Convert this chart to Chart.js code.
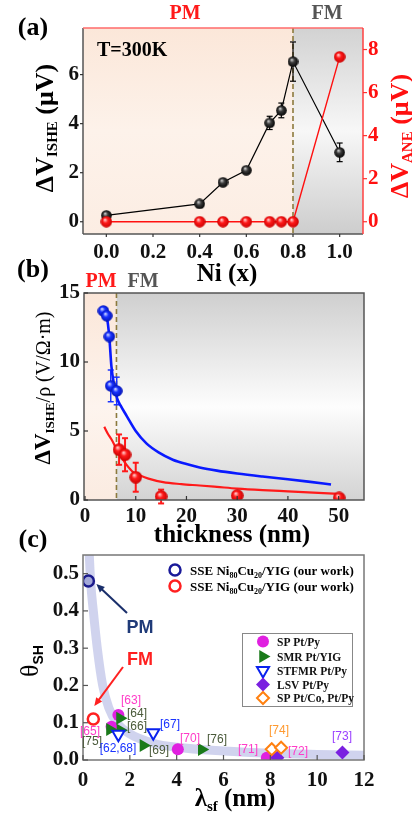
<!DOCTYPE html>
<html><head><meta charset="utf-8">
<script src="https://cdn.jsdelivr.net/npm/chart.js@4.4.1/dist/chart.umd.min.js"></script>
<style>
html,body{margin:0;padding:0;background:#fff;}
body{width:412px;height:817px;position:relative;overflow:hidden;}
canvas{position:absolute;left:0;}
</style></head><body>
<canvas id="chartA" width="412" height="290" style="top:0px"></canvas>
<canvas id="chartB" width="412" height="302" style="top:250px"></canvas>
<canvas id="chartC" width="412" height="302" style="top:515px"></canvas>
<script>
// ================= DATA =================
// Panel (a): Ni fraction x
const niFraction = [0, 0.4, 0.5, 0.6, 0.7, 0.75, 0.8, 1.0];
const dVishe     = [0.26, 0.73, 1.61, 2.10, 4.03, 4.54, 6.53, 2.83];
const dVisheErr  = [0.05, 0.05, 0.06, 0.08, 0.27, 0.30, 0.80, 0.38];
const dVane      = [0, 0, 0, 0, 0, 0, 0, 7.66];
const aXTicks  = [0, 0.2, 0.4, 0.6, 0.8, 1.0];
const aYTicks  = [0, 2, 4, 6];
const aY2Ticks = [0, 2, 4, 6, 8];
const aBoundary = 0.8;

// Panel (b): thickness dependence
const blueThick = [3.61, 4.28, 4.79, 5.07, 6.25];
const blueVal   = [13.7, 13.35, 11.84, 8.27, 7.9];
const blueErr   = [0.15, 0.15, 0.15, 1.15, 1.0];
const redThick  = [6.71, 7.89, 10.0, 15.0, 30.0, 50.1];
const redVal    = [3.65, 3.28, 1.65, 0.25, 0.32, 0.15];
const redErr    = [1.1, 1.2, 1.05, 0.5, 0, 0];
const fitBlueThick = [3.61, 4.28, 4.79, 5.2, 5.7, 6.3, 7.0, 8.2, 10, 12.1, 14.5, 17.3, 20, 22.6, 26, 30, 35, 40, 44, 48.5];
const fitBlueVal   = [13.7, 13.3, 11.8, 9.7, 8.4, 7.4, 6.85, 6.1, 5.0, 4.1, 3.45, 2.92, 2.6, 2.36, 2.13, 1.92, 1.7, 1.5, 1.33, 1.12];
const fitRedThick  = [3.8, 4.5, 5.2, 6.2, 7.2, 8.2, 9.5, 11, 12.5, 15.4, 19, 22.6, 26, 30, 35, 40, 45, 50];
const fitRedVal    = [5.3, 4.8, 4.4, 3.72, 3.1, 2.55, 2.02, 1.75, 1.55, 1.29, 1.15, 1.05, 0.95, 0.83, 0.72, 0.63, 0.54, 0.45];
const bXTicks = [0, 10, 20, 30, 40, 50];
const bYTicks = [0, 5, 10, 15];
const bBoundary = 6.2;

// Panel (c): spin Hall angle vs spin diffusion length
const pmLambda = [0.23], pmTheta = [0.48];
const fmLambda = [0.44], fmTheta = [0.11];
const spPtPyLambda = [1.51, 1.22, 4.05, 7.85, 8.16];
const spPtPyTheta  = [0.121, 0.089, 0.029, 0.006, 0.006];
const smrLambda = [1.58, 1.15, 1.6, 2.58, 5.07];
const smrTheta  = [0.112, 0.082, 0.08, 0.039, 0.028];
const stfmrLambda = [1.51, 3.0];
const stfmrTheta  = [0.069, 0.073];
const lsvLambda = [8.3, 11.08];
const lsvTheta  = [0.006, 0.02];
const spCoLambda = [8.06, 8.46];
const spCoTheta  = [0.029, 0.033];
const guideLambda = [0.26, 0.33, 0.44, 0.61, 0.84, 1.1, 1.44, 2.0, 3.0, 4.0, 6.0, 8.0, 10.0, 12.0];
const guideTheta  = [0.56, 0.475, 0.40, 0.30, 0.20, 0.14, 0.10, 0.07, 0.045, 0.034, 0.024, 0.018, 0.015, 0.013];
const cXTicks = [0, 2, 4, 6, 8, 10, 12];
const cYTicks = [0, 0.1, 0.2, 0.3, 0.4, 0.5];

// ================= HELPERS =================
const SERIF = '"Liberation Serif", "Times New Roman", serif';
const SANS = '"Liberation Sans", Arial, sans-serif';
const tickFont = {family: SERIF, size: 21, weight: 'bold'};
const pts = (xs, ys) => xs.map((x, i) => ({x, y: ys[i]}));

function sphere(d, light, base, dark) {
  const c = document.createElement('canvas'); c.width = c.height = d;
  const g = c.getContext('2d'); const r = d / 2;
  const gr = g.createRadialGradient(r * 0.75, r * 0.65, r * 0.05, r, r, r);
  gr.addColorStop(0, light); gr.addColorStop(0.4, base); gr.addColorStop(1, dark);
  g.fillStyle = gr; g.beginPath(); g.arc(r, r, r - 0.2, 0, Math.PI * 2); g.fill();
  return c;
}
function rich(ctx, parts, x, y, rot, align) {
  ctx.save(); ctx.translate(x, y); if (rot) ctx.rotate(rot);
  let w = 0; for (const p of parts) { ctx.font = p.f; w += ctx.measureText(p.t).width; }
  let cx = align === 'left' ? 0 : -w / 2;
  ctx.textAlign = 'left'; ctx.textBaseline = 'alphabetic';
  for (const p of parts) { ctx.font = p.f; ctx.fillStyle = p.c || '#000'; ctx.fillText(p.t, cx, p.dy || 0); cx += ctx.measureText(p.t).width; }
  ctx.restore();
}
function text(ctx, t, x, y, font, color, align, base) {
  ctx.save(); ctx.font = font; ctx.fillStyle = color; ctx.textAlign = align || 'center'; ctx.textBaseline = base || 'alphabetic';
  ctx.fillText(t, x, y); ctx.restore();
}
function line(ctx, x1, y1, x2, y2, color, w, dash) {
  ctx.save(); ctx.strokeStyle = color; ctx.lineWidth = w; if (dash) ctx.setLineDash(dash);
  ctx.beginPath(); ctx.moveTo(x1, y1); ctx.lineTo(x2, y2); ctx.stroke(); ctx.restore();
}
function ticksMarks(chart, specs) {
  const a = chart.chartArea;
  for (const s of specs) {
    const sc = chart.scales[s.id];
    for (const v of s.values) {
      const p = sc.getPixelForValue(v);
      if (s.side === 'left') line(chart.ctx, a.left, p, a.left + s.len, p, s.color, 1.2);
      if (s.side === 'right') line(chart.ctx, a.right, p, a.right - s.len, p, s.color, 1.2);
      if (s.side === 'bottom') line(chart.ctx, p, a.bottom, p, a.bottom - s.len, s.color, 1.2);
    }
  }
}
function errBars(chart, idx, errs, color, w, cap) {
  const meta = chart.getDatasetMeta(idx); const ys = chart.scales[meta.yAxisID];
  const ds = chart.data.datasets[idx].data;
  meta.data.forEach((el, i) => {
    const e = errs[i]; if (!e) return;
    const t = ys.getPixelForValue(ds[i].y + e), b = ys.getPixelForValue(ds[i].y - e);
    line(chart.ctx, el.x, t, el.x, b, color, w);
    line(chart.ctx, el.x - cap, t, el.x + cap, t, color, w);
    line(chart.ctx, el.x - cap, b, el.x + cap, b, color, w);
  });
}
function vgrad(ctx, top, bottom, stops) {
  const g = ctx.createLinearGradient(0, top, 0, bottom);
  stops.forEach(s => g.addColorStop(s[0], s[1])); return g;
}
function marker(ctx, type, x, y, r, fill, stroke, lw) {
  ctx.save(); ctx.beginPath();
  if (type === 'circle') ctx.arc(x, y, r, 0, 2 * Math.PI);
  else if (type === 'triR') { ctx.moveTo(x + r, y); ctx.lineTo(x - r * 0.5, y - r * 0.866); ctx.lineTo(x - r * 0.5, y + r * 0.866); ctx.closePath(); }
  else if (type === 'triD') { ctx.moveTo(x, y + r); ctx.lineTo(x - r * 0.866, y - r * 0.5); ctx.lineTo(x + r * 0.866, y - r * 0.5); ctx.closePath(); }
  else if (type === 'diamond') { ctx.moveTo(x, y - r); ctx.lineTo(x + r, y); ctx.lineTo(x, y + r); ctx.lineTo(x - r, y); ctx.closePath(); }
  if (fill) { ctx.fillStyle = fill; ctx.fill(); }
  if (stroke) { ctx.strokeStyle = stroke; ctx.lineWidth = lw; ctx.stroke(); }
  ctx.restore();
}
function arrow(ctx, x1, y1, x2, y2, color, w, head) {
  const ang = Math.atan2(y2 - y1, x2 - x1);
  line(ctx, x1, y1, x2 - Math.cos(ang) * head * 0.7, y2 - Math.sin(ang) * head * 0.7, color, w);
  ctx.save(); ctx.fillStyle = color; ctx.beginPath(); ctx.moveTo(x2, y2);
  ctx.lineTo(x2 - head * Math.cos(ang - 0.42), y2 - head * Math.sin(ang - 0.42));
  ctx.lineTo(x2 - head * Math.cos(ang + 0.42), y2 - head * Math.sin(ang + 0.42));
  ctx.closePath(); ctx.fill(); ctx.restore();
}
function linAxis(min, max, tickArr, extra) {
  return Object.assign({
    type: 'linear', min, max,
    afterBuildTicks: s => { s.ticks = tickArr.map(v => ({value: v})); },
    grid: {display: false, drawTicks: false}, border: {display: false},
    ticks: {font: tickFont, color: '#111', autoSkip: false, maxRotation: 0, padding: 4}
  }, extra);
}
const common = {responsive: false, animation: false, events: [],
  plugins: {legend: {display: false}, tooltip: {enabled: false}}};

// ================= CHART (a) =================
const blackA = sphere(11, '#d0d0d0', '#3a3a3a', '#000');
const redA = sphere(12, '#ffd0d0', '#ff1a1a', '#c80000');
const redB = sphere(13, '#ffd0d0', '#ff1a1a', '#c80000');
const blueB = sphere(12, '#d0d8ff', '#1a33ff', '#0010b0');

new Chart(document.getElementById('chartA'), {
  type: 'scatter',
  data: {datasets: [
    {data: pts(niFraction, dVane), yAxisID: 'y2', showLine: true, borderColor: '#ff1010', borderWidth: 1.4,
     pointStyle: redA, pointRadius: 6, order: 0},
    {data: pts(niFraction, dVishe), yAxisID: 'y', showLine: true, borderColor: '#000', borderWidth: 1.2,
     pointStyle: blackA, pointRadius: 6, order: 1}
  ]},
  options: Object.assign({}, common, {
    layout: {padding: {top: 28, left: 0, right: 0, bottom: 0}},
    scales: {
      x: linAxis(-0.1, 1.1, aXTicks, {afterFit: s => { s.height = 56; },
        ticks: {font: tickFont, color: '#111', autoSkip: false, maxRotation: 0, padding: 6, callback: v => v.toFixed(1)}}),
      y: linAxis(-0.5, 7.9, aYTicks, {position: 'left', afterFit: s => { s.width = 83; }}),
      y2: linAxis(-0.57, 9.0, aY2Ticks, {position: 'right', afterFit: s => { s.width = 49; },
        ticks: {font: tickFont, color: '#ff1010', autoSkip: false, padding: 5}})
    }
  }),
  plugins: [{
    id: 'decoA',
    beforeDraw(chart) {
      const ctx = chart.ctx, a = chart.chartArea, bx = chart.scales.x.getPixelForValue(aBoundary);
      ctx.save();
      ctx.fillStyle = vgrad(ctx, a.top, a.bottom, [[0, '#fbe7d9'], [0.5, '#fdf2ea'], [1, '#fcede3']]);
      ctx.fillRect(a.left, a.top, bx - a.left, a.bottom - a.top);
      ctx.fillStyle = vgrad(ctx, a.top, a.bottom, [[0, '#d2d2d2'], [0.5, '#f7f7f7'], [1, '#cdcdcd']]);
      ctx.fillRect(bx, a.top, a.right - bx, a.bottom - a.top);
      ctx.restore();
    },
    beforeDatasetsDraw(chart) {
      const a = chart.chartArea, bx = chart.scales.x.getPixelForValue(aBoundary);
      line(chart.ctx, bx, a.top, bx, a.bottom, '#8c7a3e', 1.6, [5, 3]);
      errBars(chart, 1, dVisheErr, '#000', 1.2, 3);
    },
    afterDraw(chart) {
      const ctx = chart.ctx, a = chart.chartArea;
      line(ctx, a.left, a.bottom, a.right, a.bottom, '#555', 1.5);
      line(ctx, a.left, a.top, a.left, a.bottom, '#555', 1.5);
      line(ctx, a.left, a.top, a.right, a.top, '#ff6a6a', 1.5);
      line(ctx, a.right, a.top, a.right, a.bottom, '#ff4040', 1.5);
      ticksMarks(chart, [
        {id: 'y', side: 'left', len: -3, values: aYTicks, color: '#333'},
        {id: 'y2', side: 'right', len: -4, values: aY2Ticks, color: '#ff3030'},
        {id: 'x', side: 'bottom', len: -3, values: aXTicks, color: '#333'}]);
      text(ctx, '(a)', 33, 35, 'bold 26px ' + SERIF, '#000');
      text(ctx, 'PM', 185, 19, 'bold 20px ' + SERIF, '#ff1a1a');
      text(ctx, 'FM', 327, 19, 'bold 20px ' + SERIF, '#555');
      text(ctx, 'T=300K', 97, 56, 'bold 20px ' + SERIF, '#000', 'left');
      const B = 'bold 26px ' + SERIF, S = 'bold 15px ' + SERIF;
      rich(ctx, [{t: 'ΔV', f: B}, {t: 'ISHE', f: S, dy: 4}, {t: ' (μV)', f: B}], 53, 128, -Math.PI / 2);
      rich(ctx, [{t: 'ΔV', f: B, c: '#ff1010'}, {t: 'ANE', f: S, dy: 4, c: '#ff1010'}, {t: ' (μV)', f: B, c: '#ff1010'}], 408, 136, -Math.PI / 2);
      text(ctx, 'Ni (x)', 227, 281, 'bold 25px ' + SERIF, '#000');
    }
  }]
});

// ================= CHART (b) =================
const TB = 250;
new Chart(document.getElementById('chartB'), {
  type: 'scatter',
  data: {datasets: [
    {data: pts(blueThick, blueVal), pointStyle: blueB, pointRadius: 6, order: 1, clip: 0},
    {data: pts(redThick, redVal), pointStyle: redB, pointRadius: 6, order: 0, clip: 0},
    {data: pts(fitBlueThick, fitBlueVal), showLine: true, pointRadius: 0, borderColor: '#0a1aff', borderWidth: 2.6,
     cubicInterpolationMode: 'monotone', order: 3},
    {data: pts(fitRedThick, fitRedVal), showLine: true, pointRadius: 0, borderColor: '#ff1a1a', borderWidth: 2.2,
     cubicInterpolationMode: 'monotone', order: 2}
  ]},
  options: Object.assign({}, common, {
    layout: {padding: {top: 43, left: 0, right: 48, bottom: 0}},
    scales: {
      x: linAxis(-0.2, 55, bXTicks, {afterFit: s => { s.height = 52; },
        ticks: {font: tickFont, color: '#111', autoSkip: false, maxRotation: 0, padding: 4}}),
      y: linAxis(0, 15, bYTicks, {position: 'left', afterFit: s => { s.width = 84; }})
    }
  }),
  plugins: [{
    id: 'decoB',
    beforeDraw(chart) {
      const ctx = chart.ctx, a = chart.chartArea, bx = chart.scales.x.getPixelForValue(bBoundary);
      ctx.save();
      ctx.fillStyle = vgrad(ctx, a.top, a.bottom, [[0, '#fbe6d8'], [0.55, '#fdf4ee'], [1, '#fbebe1']]);
      ctx.fillRect(a.left, a.top, bx - a.left, a.bottom - a.top);
      ctx.fillStyle = vgrad(ctx, a.top, a.bottom, [[0, '#cfcfcf'], [0.55, '#fdfdfd'], [1, '#d3d3d3']]);
      ctx.fillRect(bx, a.top, a.right - bx, a.bottom - a.top);
      ctx.restore();
    },
    beforeDatasetsDraw(chart) {
      const a = chart.chartArea, bx = chart.scales.x.getPixelForValue(bBoundary);
      line(chart.ctx, bx, a.top, bx, a.bottom, '#8c7a3e', 1.6, [5, 3]);
      errBars(chart, 0, blueErr, '#1a33ff', 1.5, 3);
      errBars(chart, 1, redErr, '#ff1a1a', 2, 3);
    },
    afterDraw(chart) {
      const ctx = chart.ctx, a = chart.chartArea;
      ctx.save(); ctx.strokeStyle = '#555'; ctx.lineWidth = 1.5; ctx.strokeRect(a.left, a.top, a.right - a.left, a.bottom - a.top); ctx.restore();
      ticksMarks(chart, [
        {id: 'y', side: 'left', len: 4, values: bYTicks, color: '#333'},
        {id: 'x', side: 'bottom', len: 4, values: bXTicks, color: '#333'}]);
      text(ctx, '(b)', 33, 277 - TB, 'bold 26px ' + SERIF, '#000');
      text(ctx, 'PM', 101, 287 - TB, 'bold 20px ' + SERIF, '#ff1a1a');
      text(ctx, 'FM', 143, 287 - TB, 'bold 20px ' + SERIF, '#555');
      const B = 'bold 23px ' + SERIF, S = 'bold 13px ' + SERIF, N = '20px ' + SERIF;
      rich(ctx, [{t: 'ΔV', f: B}, {t: 'ISHE', f: S, dy: 4}, {t: '/ρ (V/Ω·m)', f: N}], 50, 388 - TB, -Math.PI / 2);
      text(ctx, 'thickness (nm)', 232, 542 - TB, 'bold 25px ' + SERIF, '#000');
    }
  }]
});

// ================= CHART (c) =================
const TC = 515;
const MAG = '#e020e0', GRN = '#1a7a1a', BLU = '#0a22ee', PUR = '#7a1fe0', ORG = '#ff8010';
const refLabels = [
  {t: '[63]', c: '#ff3cc8', x: 131, y: 701}, {t: '[64]', c: '#4a5a3a', x: 137, y: 714},
  {t: '[66]', c: '#4a5a3a', x: 137, y: 727}, {t: '[67]', c: '#1a33ff', x: 170, y: 725},
  {t: '[65]', c: '#ff3cc8', x: 90, y: 732}, {t: '[75]', c: '#4a5a3a', x: 92, y: 742},
  {t: '[62,68]', c: '#1a33ff', x: 118, y: 748.5}, {t: '[69]', c: '#4a5a3a', x: 159, y: 751},
  {t: '[70]', c: '#ff3cc8', x: 190, y: 738.5}, {t: '[76]', c: '#4a5a3a', x: 217, y: 740},
  {t: '[71]', c: '#ff3cc8', x: 248, y: 750}, {t: '[72]', c: '#ff3cc8', x: 298, y: 752},
  {t: '[74]', c: '#ff9a30', x: 279, y: 731}, {t: '[73]', c: '#9a40ff', x: 342, y: 737}
];
new Chart(document.getElementById('chartC'), {
  type: 'scatter',
  data: {datasets: [
    {data: pts(guideLambda, guideTheta), showLine: true, pointRadius: 0, borderColor: 'rgba(196,200,234,0.8)',
     borderWidth: 9, cubicInterpolationMode: 'monotone', order: 10, clip: 0},
    {data: pts(spPtPyLambda, spPtPyTheta), pointStyle: 'circle', pointRadius: 6, backgroundColor: MAG, borderColor: MAG, borderWidth: 0, order: 6, clip: 0},
    {data: pts(lsvLambda, lsvTheta), pointStyle: 'rectRot', pointRadius: 7, backgroundColor: PUR, borderColor: PUR, borderWidth: 0, order: 5, clip: 0},
    {data: pts(spCoLambda, spCoTheta), pointStyle: 'rectRot', pointRadius: 6, backgroundColor: '#fff', borderColor: ORG, borderWidth: 2, order: 4, clip: 0},
    {data: pts(smrLambda, smrTheta), pointStyle: 'triangle', rotation: 90, pointRadius: 7.5, backgroundColor: GRN, borderColor: GRN, borderWidth: 0, order: 3, clip: 0},
    {data: pts(stfmrLambda, stfmrTheta), pointStyle: 'triangle', rotation: 180, pointRadius: 7, backgroundColor: '#fff', borderColor: BLU, borderWidth: 2, order: 2, clip: 0},
    {data: pts(pmLambda, pmTheta), pointStyle: 'circle', pointRadius: 5.5, backgroundColor: '#a3a8d8', borderColor: '#1a1a8c', borderWidth: 2.5, order: 1, clip: 0},
    {data: pts(fmLambda, fmTheta), pointStyle: 'circle', pointRadius: 5.5, backgroundColor: '#fff', borderColor: '#ff2020', borderWidth: 2.5, order: 0, clip: 0}
  ]},
  options: Object.assign({}, common, {
    layout: {padding: {top: 40, left: 0, right: 48, bottom: 0}},
    scales: {
      x: linAxis(0, 12, cXTicks, {afterFit: s => { s.height = 57; },
        ticks: {font: tickFont, color: '#111', autoSkip: false, maxRotation: 0, padding: 8}}),
      y: linAxis(0, 0.55, cYTicks, {position: 'left', afterFit: s => { s.width = 83; },
        ticks: {font: tickFont, color: '#111', autoSkip: false, padding: 4, callback: v => v.toFixed(1)}})
    }
  }),
  plugins: [{
    id: 'decoC',
    afterDraw(chart) {
      const ctx = chart.ctx, a = chart.chartArea;
      ctx.save(); ctx.strokeStyle = '#777'; ctx.lineWidth = 1.5; ctx.strokeRect(a.left, a.top, a.right - a.left, a.bottom - a.top); ctx.restore();
      ticksMarks(chart, [
        {id: 'y', side: 'left', len: 5, values: cYTicks, color: '#555'},
        {id: 'x', side: 'bottom', len: 5, values: cXTicks, color: '#555'}]);
      text(ctx, '(c)', 33, 547 - TC, 'bold 26px ' + SERIF, '#000');
      rich(ctx, [{t: 'θ', f: '26px ' + SERIF}, {t: 'SH', f: 'bold 14px ' + SANS, dy: 5}], 38, 661 - TC, -Math.PI / 2);
      rich(ctx, [{t: 'λ', f: 'bold 25px ' + SERIF}, {t: 'sf', f: 'bold 15px ' + SERIF, dy: 5}, {t: ' (nm)', f: 'bold 25px ' + SERIF}], 235, 806 - TC);
      // upper legend
      const LF = 'bold 13px ' + SERIF, LS = 'bold 8px ' + SERIF;
      const leg = (y, col) => {
        marker(ctx, 'circle', 175, y - TC, 5.5, null, col, 2.5);
        rich(ctx, [{t: 'SSE Ni', f: LF}, {t: '80', f: LS, dy: 3}, {t: 'Cu', f: LF}, {t: '20', f: LS, dy: 3}, {t: '/YIG (our work)', f: LF}], 190, y - TC + 5, 0, 'left');
      };
      leg(570, '#1a1a99'); leg(586, '#ff2020');
      // lower legend box
      ctx.save(); ctx.fillStyle = '#fff'; ctx.fillRect(242, 633 - TC, 111, 74); ctx.strokeStyle = '#888'; ctx.lineWidth = 1; ctx.strokeRect(242.5, 633.5 - TC, 110, 73); ctx.restore();
      const items = [
        ['circle', MAG, null, 6, 'SP Pt/Py', 641.5], ['triR', GRN, null, 7.5, 'SMR Pt/YIG', 656.5],
        ['triD', null, BLU, 7, 'STFMR Pt/Py', 670.5], ['diamond', PUR, null, 7, 'LSV Pt/Py', 684.5],
        ['diamond', null, ORG, 6, 'SP Pt/Co, Pt/Py', 698]];
      for (const it of items) {
        marker(ctx, it[0], 263, it[5] - TC, it[3], it[1] || '#fff', it[2], 2);
        text(ctx, it[4], 277, it[5] - TC + 4, 'bold 11.5px ' + SERIF, '#111', 'left');
      }
      // reference labels
      for (const r of refLabels) text(ctx, r.t, r.x, r.y - TC, '12px ' + SANS, r.c, 'center', 'middle');
      // PM / FM annotations
      const xs = chart.scales.x, ys = chart.scales.y;
      const pmx = xs.getPixelForValue(pmLambda[0]), pmy = ys.getPixelForValue(pmTheta[0]);
      const fmx = xs.getPixelForValue(fmLambda[0]), fmy = ys.getPixelForValue(fmTheta[0]);
      arrow(ctx, 127, 613 - TC, pmx + 8, pmy + 3, '#1a2f6b', 2, 9);
      arrow(ctx, 123, 667 - TC, fmx + 1, fmy - 13, '#ff2020', 2, 9);
      text(ctx, 'PM', 140, 633 - TC, 'bold 18px ' + SANS, '#1f3a78');
      text(ctx, 'FM', 140, 665 - TC, 'bold 18px ' + SANS, '#ff2020');
    }
  }]
});
</script></body></html>
